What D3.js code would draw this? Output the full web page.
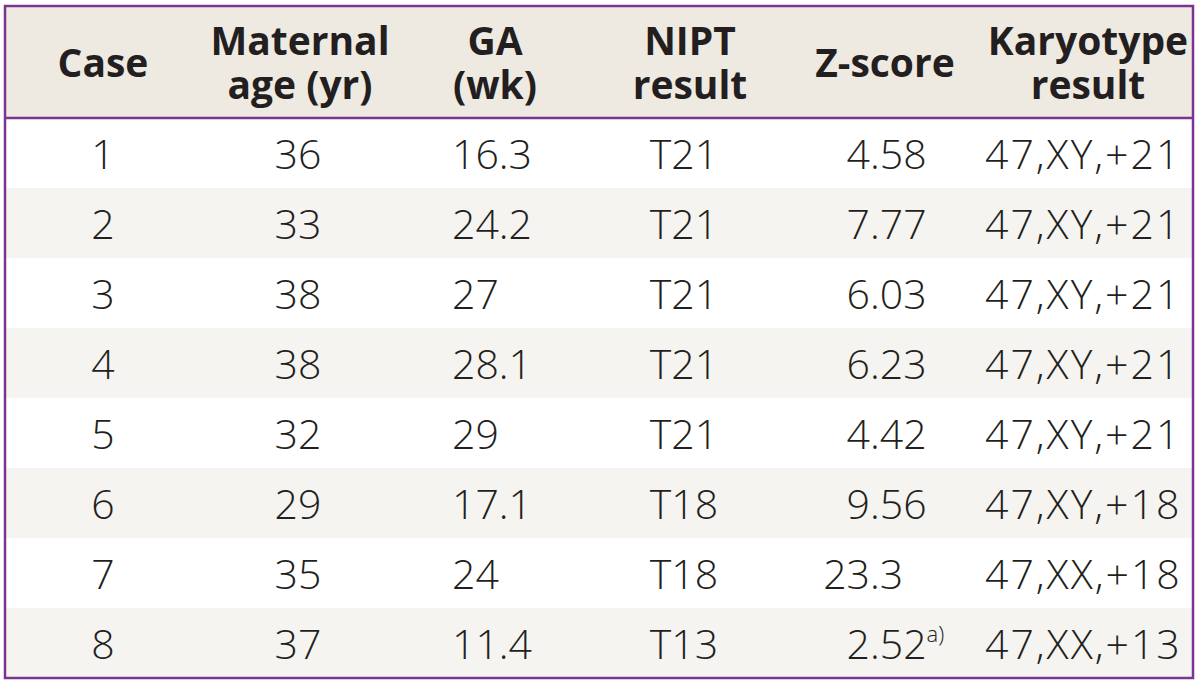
<!DOCTYPE html>
<html><head><meta charset="utf-8">
<script src="https://cdn.jsdelivr.net/npm/d3@7"></script>
<style>
html,body{margin:0;padding:0;background:#fff;}
svg{display:block;}
</style></head>
<body>
<svg id="c" width="1200" height="685"></svg>
<script>
// ---- data ----
const cases = ["1","2","3","4","5","6","7","8"];
const maternalAge = ["36","33","38","38","32","29","35","37"];
const gestAge = ["16.3","24.2","27","28.1","29","17.1","24","11.4"];
const niptResult = ["T21","T21","T21","T21","T21","T18","T18","T13"];
const zScore = ["4.58","7.77","6.03","6.23","4.42","9.56","23.3","2.52"];
const zNote = ["","","","","","","","a)"];
const karyotype = ["47,XY,+21","47,XY,+21","47,XY,+21","47,XY,+21","47,XY,+21","47,XY,+18","47,XX,+18","47,XX,+13"];
const headers = [["Case"],["Maternal","age (yr)"],["GA","(wk)"],["NIPT","result"],["Z-score"],["Karyotype","result"]];

// ---- layout ----
const svg = d3.select("#c");
const L = 5, R = 1193, T = 6, HB = 118, B = 678;
const purple = "#7b3590", headBg = "#eeeae2", shade = "#f5f4f0", ink = "#231f20";
const bodyFont = "'Open Sans', 'Noto Sans', sans-serif";

const y = d3.scaleBand().domain(cases).range([HB, B]);

svg.append("rect").attr("x", L).attr("y", T).attr("width", R - L).attr("height", HB - T).attr("fill", headBg);
svg.selectAll("rect.shade").data(cases.filter((d, i) => i % 2 === 1)).join("rect")
  .attr("class", "shade").attr("x", L).attr("width", R - L)
  .attr("y", d => y(d)).attr("height", y.bandwidth()).attr("fill", shade);

// header text
const headX = [103, 300, 495, 690, 885, 1088];
const hg = svg.append("g").attr("font-family", bodyFont).attr("font-weight", 700)
  .attr("font-size", 39).attr("fill", ink).attr("text-anchor", "middle");
headers.forEach((lines, i) => {
  const t = hg.append("text").attr("x", headX[i]);
  if (lines.length === 1) {
    t.attr("y", 77).text(lines[0]);
  } else {
    lines.forEach((ln, j) => t.append("tspan").attr("x", headX[i]).attr("y", 55 + j * 44).text(ln));
  }
});

// body text
const bg = svg.append("g").attr("font-family", bodyFont).attr("font-weight", 300)
  .attr("font-size", 41).attr("fill", ink);
const base = d => y(d) + 51;
const col = (vals, x, anchor) => bg.append("g").selectAll("text").data(cases).join("text")
  .attr("x", x).attr("y", base).attr("text-anchor", anchor).text((d, i) => vals[i]);
col(cases, 103, "middle");
col(maternalAge, 298, "middle");
col(gestAge, 452, "start");
col(niptResult, 684, "middle");
col(karyotype, 985, "start").attr("letter-spacing", 2);

// z-score: decimal aligned
const decX = 870;
bg.append("g").selectAll("text").data(cases).join("text")
  .attr("x", decX).attr("y", base).attr("text-anchor", "end")
  .text((d, i) => zScore[i].split(".")[0]);
const zf = bg.append("g").selectAll("text").data(cases).join("text")
  .attr("x", decX).attr("y", base).attr("text-anchor", "start");
zf.append("tspan").text((d, i) => "." + zScore[i].split(".")[1]);
zf.append("tspan").attr("font-size", 22).attr("dy", -17).text((d, i) => zNote[i]);

// lines
svg.append("line").attr("x1", L).attr("x2", R).attr("y1", HB).attr("y2", HB)
  .attr("stroke", purple).attr("stroke-width", 2.5);
svg.append("rect").attr("x", L).attr("y", T).attr("width", R - L).attr("height", B - T)
  .attr("fill", "none").attr("stroke", purple).attr("stroke-width", 2.5);
</script>
</body></html>
